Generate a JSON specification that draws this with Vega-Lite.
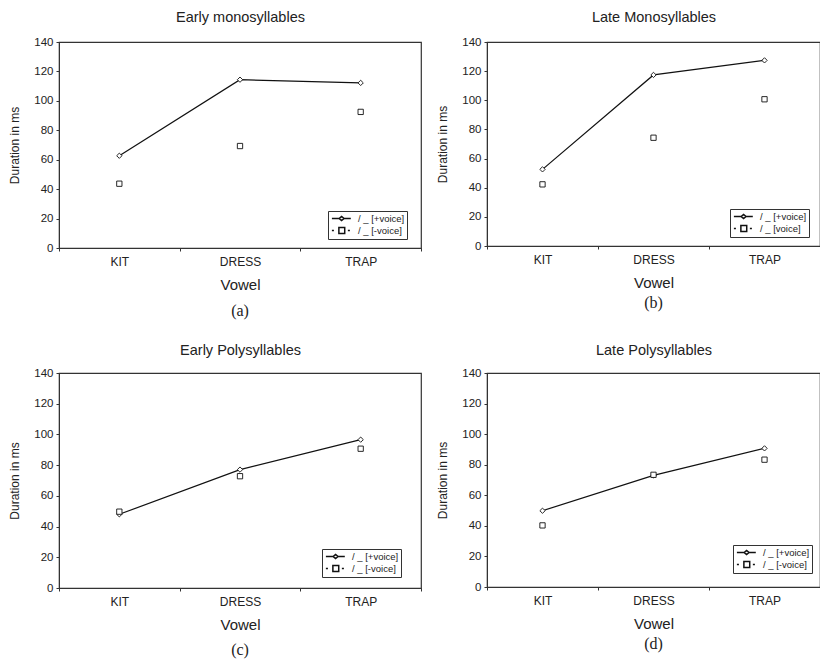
{
  "$schema": "https://vega.github.io/schema/vega-lite/v6.json",
  "background": "white",
  "padding": {"left": 8, "top": 8, "right": 0, "bottom": 0},
  "config": {
    "font": "Liberation Sans",
    "view": {"stroke": "#333", "strokeWidth": 1.2},
    "axis": {"grid": false, "domainColor": "#333", "tickColor": "#333", "labelColor": "#222", "titleColor": "#222", "labelFontSize": 11.5, "titleFontWeight": "normal"},
    "legend": {"labelColor": "#222", "strokeColor": "#333", "fillColor": "white", "padding": 2, "labelFontSize": 9.5, "symbolSize": 81, "rowPadding": 0, "labelOffset": 17}
  },
  "resolve": {"scale": {"shape": "independent"}, "legend": {"shape": "independent"}},
  "datasets": {
    "d": [
      {"panel": "a", "vowel": "KIT", "series": "/ _ [+voice]", "ms": 62.7},
      {"panel": "a", "vowel": "DRESS", "series": "/ _ [+voice]", "ms": 114.4},
      {"panel": "a", "vowel": "TRAP", "series": "/ _ [+voice]", "ms": 112.2},
      {"panel": "a", "vowel": "KIT", "series": "/ _ [-voice]", "ms": 43.7},
      {"panel": "a", "vowel": "DRESS", "series": "/ _ [-voice]", "ms": 69.3},
      {"panel": "a", "vowel": "TRAP", "series": "/ _ [-voice]", "ms": 92.5},
      {"panel": "b", "vowel": "KIT", "series": "/ _ [+voice]", "ms": 52.6},
      {"panel": "b", "vowel": "DRESS", "series": "/ _ [+voice]", "ms": 117.4},
      {"panel": "b", "vowel": "TRAP", "series": "/ _ [+voice]", "ms": 127.4},
      {"panel": "b", "vowel": "KIT", "series": "/ _ [voice]", "ms": 42.3},
      {"panel": "b", "vowel": "DRESS", "series": "/ _ [voice]", "ms": 74.3},
      {"panel": "b", "vowel": "TRAP", "series": "/ _ [voice]", "ms": 100.7},
      {"panel": "c", "vowel": "KIT", "series": "/ _ [+voice]", "ms": 48.0},
      {"panel": "c", "vowel": "DRESS", "series": "/ _ [+voice]", "ms": 77.1},
      {"panel": "c", "vowel": "TRAP", "series": "/ _ [+voice]", "ms": 96.6},
      {"panel": "c", "vowel": "KIT", "series": "/ _ [-voice]", "ms": 49.7},
      {"panel": "c", "vowel": "DRESS", "series": "/ _ [-voice]", "ms": 72.8},
      {"panel": "c", "vowel": "TRAP", "series": "/ _ [-voice]", "ms": 90.7},
      {"panel": "d", "vowel": "KIT", "series": "/ _ [+voice]", "ms": 49.9},
      {"panel": "d", "vowel": "DRESS", "series": "/ _ [+voice]", "ms": 73.0},
      {"panel": "d", "vowel": "TRAP", "series": "/ _ [+voice]", "ms": 90.7},
      {"panel": "d", "vowel": "KIT", "series": "/ _ [-voice]", "ms": 40.3},
      {"panel": "d", "vowel": "DRESS", "series": "/ _ [-voice]", "ms": 73.4},
      {"panel": "d", "vowel": "TRAP", "series": "/ _ [-voice]", "ms": 83.3}
    ]
  },
  "data": {"name": "d"},
  "columns": 2,
  "spacing": {"row": 21, "column": 13},
  "concat": [
    {
      "width": 362, "height": 206,
      "title": {"text": "(a)", "orient": "bottom", "font": "Liberation Serif", "fontSize": 16, "fontWeight": "normal", "color": "#222", "offset": 11},
      "transform": [{"filter": "datum.panel === 'a'"}],
      "encoding": {
        "y": {"field": "ms", "type": "quantitative", "scale": {"domain": [0, 140]}, "axis": {"values": [0,20,40,60,80,100,120,140], "title": "Duration in ms", "titleFontSize": 12, "titlePadding": 12, "tickSize": 3, "labelPadding": 3}}
      },
      "layer": [
        {
          "transform": [{"filter": "datum.series === '/ _ [+voice]'"}],
          "mark": {"type": "line", "color": "#111", "strokeWidth": 1.2},
          "encoding": {"x": {"field": "vowel", "type": "nominal", "sort": ["KIT", "DRESS", "TRAP"], "scale": {"type": "band", "paddingInner": 0, "paddingOuter": 0}, "axis": {"orient": "bottom", "title": "Vowel", "titleFontSize": 15, "titlePadding": 10, "labelFontSize": 12, "labelAngle": 0, "tickBand": "extent", "tickSize": 3, "labelPadding": 5}}}
        },
        {
          "mark": {"type": "point", "filled": false, "color": "#111", "fill": "white", "fillOpacity": 1, "size": 28, "strokeWidth": 0.9, "opacity": 1},
          "encoding": {
            "x": {"field": "vowel", "type": "nominal", "sort": ["KIT", "DRESS", "TRAP"], "scale": {"type": "band", "paddingInner": 0, "paddingOuter": 0}, "axis": {"orient": "top", "title": "Early monosyllables", "titleFontSize": 14.5, "titlePadding": 18, "labels": false, "ticks": false, "domain": false}},
            "shape": {"field": "series", "type": "nominal", "scale": {"domain": ["/ _ [+voice]", "/ _ [-voice]"], "range": ["diamond", "square"]}, "legend": null}
          }
        },
        {
          "mark": {"type": "point", "filled": false, "color": "#111", "opacity": 0},
          "encoding": {
            "x": {"field": "vowel", "type": "nominal", "sort": ["KIT", "DRESS", "TRAP"], "scale": {"type": "band", "paddingInner": 0, "paddingOuter": 0}, "axis": null},
            "shape": {"field": "series", "type": "nominal", "scale": {"domain": ["/ _ [+voice]", "/ _ [-voice]"], "range": ["M-0.8,0H0.8M1.9,0H3.4M0.8,0L1.35,-0.45L1.9,0L1.35,0.45Z", "M-0.8,0H-0.35M0.75,-0.65H2.05V0.65H0.75ZM2.75,0H3.2"]},
              "legend": {"title": null, "orient": "none", "legendX": 269, "legendY": 169,
                "encode": {"symbols": {"stroke": {"value": "#111"}, "fill": {"value": "white"}, "strokeWidth": {"value": 0.9}, "opacity": {"value": 1}, "strokeOpacity": {"value": 1}}}}}
          }
        }
      ],
      "resolve": {"axis": {"x": "independent"}, "scale": {"shape": "independent"}}
    },
    {
      "width": 333, "height": 204,
      "title": {"text": "(b)", "orient": "bottom", "font": "Liberation Serif", "fontSize": 16, "fontWeight": "normal", "color": "#222", "offset": 5},
      "transform": [{"filter": "datum.panel === 'b'"}],
      "encoding": {
        "y": {"field": "ms", "type": "quantitative", "scale": {"domain": [0, 140]}, "axis": {"values": [0,20,40,60,80,100,120,140], "title": "Duration in ms", "titleFontSize": 12, "titlePadding": 12, "tickSize": 3, "labelPadding": 3}}
      },
      "layer": [
        {
          "transform": [{"filter": "datum.series === '/ _ [+voice]'"}],
          "mark": {"type": "line", "color": "#111", "strokeWidth": 1.2},
          "encoding": {"x": {"field": "vowel", "type": "nominal", "sort": ["KIT", "DRESS", "TRAP"], "scale": {"type": "band", "paddingInner": 0, "paddingOuter": 0}, "axis": {"orient": "bottom", "title": "Vowel", "titleFontSize": 15, "titlePadding": 10, "labelFontSize": 12, "labelAngle": 0, "tickBand": "extent", "tickSize": 3, "labelPadding": 5}}}
        },
        {
          "mark": {"type": "point", "filled": false, "color": "#111", "fill": "white", "fillOpacity": 1, "size": 28, "strokeWidth": 0.9, "opacity": 1},
          "encoding": {
            "x": {"field": "vowel", "type": "nominal", "sort": ["KIT", "DRESS", "TRAP"], "scale": {"type": "band", "paddingInner": 0, "paddingOuter": 0}, "axis": {"orient": "top", "title": "Late Monosyllables", "titleFontSize": 14.5, "titlePadding": 18, "labels": false, "ticks": false, "domain": false}},
            "shape": {"field": "series", "type": "nominal", "scale": {"domain": ["/ _ [+voice]", "/ _ [voice]"], "range": ["diamond", "square"]}, "legend": null}
          }
        },
        {
          "mark": {"type": "point", "filled": false, "color": "#111", "opacity": 0},
          "encoding": {
            "x": {"field": "vowel", "type": "nominal", "sort": ["KIT", "DRESS", "TRAP"], "scale": {"type": "band", "paddingInner": 0, "paddingOuter": 0}, "axis": null},
            "shape": {"field": "series", "type": "nominal", "scale": {"domain": ["/ _ [+voice]", "/ _ [voice]"], "range": ["M-0.8,0H0.8M1.9,0H3.4M0.8,0L1.35,-0.45L1.9,0L1.35,0.45Z", "M-0.8,0H-0.35M0.75,-0.65H2.05V0.65H0.75ZM2.75,0H3.2"]},
              "legend": {"title": null, "orient": "none", "legendX": 243, "legendY": 167,
                "encode": {"symbols": {"stroke": {"value": "#111"}, "fill": {"value": "white"}, "strokeWidth": {"value": 0.9}, "opacity": {"value": 1}, "strokeOpacity": {"value": 1}}}}}
          }
        }
      ],
      "resolve": {"axis": {"x": "independent"}, "scale": {"shape": "independent"}}
    },
    {
      "width": 362, "height": 215,
      "title": {"text": "(c)", "orient": "bottom", "font": "Liberation Serif", "fontSize": 16, "fontWeight": "normal", "color": "#222", "offset": 10},
      "transform": [{"filter": "datum.panel === 'c'"}],
      "encoding": {
        "y": {"field": "ms", "type": "quantitative", "scale": {"domain": [0, 140]}, "axis": {"values": [0,20,40,60,80,100,120,140], "title": "Duration in ms", "titleFontSize": 12, "titlePadding": 12, "tickSize": 3, "labelPadding": 3}}
      },
      "layer": [
        {
          "transform": [{"filter": "datum.series === '/ _ [+voice]'"}],
          "mark": {"type": "line", "color": "#111", "strokeWidth": 1.2},
          "encoding": {"x": {"field": "vowel", "type": "nominal", "sort": ["KIT", "DRESS", "TRAP"], "scale": {"type": "band", "paddingInner": 0, "paddingOuter": 0}, "axis": {"orient": "bottom", "title": "Vowel", "titleFontSize": 15, "titlePadding": 10, "labelFontSize": 12, "labelAngle": 0, "tickBand": "extent", "tickSize": 3, "labelPadding": 5}}}
        },
        {
          "mark": {"type": "point", "filled": false, "color": "#111", "fill": "white", "fillOpacity": 1, "size": 28, "strokeWidth": 0.9, "opacity": 1},
          "encoding": {
            "x": {"field": "vowel", "type": "nominal", "sort": ["KIT", "DRESS", "TRAP"], "scale": {"type": "band", "paddingInner": 0, "paddingOuter": 0}, "axis": {"orient": "top", "title": "Early Polysyllables", "titleFontSize": 14.5, "titlePadding": 16, "labels": false, "ticks": false, "domain": false}},
            "shape": {"field": "series", "type": "nominal", "scale": {"domain": ["/ _ [+voice]", "/ _ [-voice]"], "range": ["diamond", "square"]}, "legend": null}
          }
        },
        {
          "mark": {"type": "point", "filled": false, "color": "#111", "opacity": 0},
          "encoding": {
            "x": {"field": "vowel", "type": "nominal", "sort": ["KIT", "DRESS", "TRAP"], "scale": {"type": "band", "paddingInner": 0, "paddingOuter": 0}, "axis": null},
            "shape": {"field": "series", "type": "nominal", "scale": {"domain": ["/ _ [+voice]", "/ _ [-voice]"], "range": ["M-0.8,0H0.8M1.9,0H3.4M0.8,0L1.35,-0.45L1.9,0L1.35,0.45Z", "M-0.8,0H-0.35M0.75,-0.65H2.05V0.65H0.75ZM2.75,0H3.2"]},
              "legend": {"title": null, "orient": "none", "legendX": 263, "legendY": 176,
                "encode": {"symbols": {"stroke": {"value": "#111"}, "fill": {"value": "white"}, "strokeWidth": {"value": 0.9}, "opacity": {"value": 1}, "strokeOpacity": {"value": 1}}}}}
          }
        }
      ],
      "resolve": {"axis": {"x": "independent"}, "scale": {"shape": "independent"}}
    },
    {
      "width": 333, "height": 214,
      "title": {"text": "(d)", "orient": "bottom", "font": "Liberation Serif", "fontSize": 16, "fontWeight": "normal", "color": "#222", "offset": 5},
      "transform": [{"filter": "datum.panel === 'd'"}],
      "encoding": {
        "y": {"field": "ms", "type": "quantitative", "scale": {"domain": [0, 140]}, "axis": {"values": [0,20,40,60,80,100,120,140], "title": "Duration in ms", "titleFontSize": 12, "titlePadding": 12, "tickSize": 3, "labelPadding": 3}}
      },
      "layer": [
        {
          "transform": [{"filter": "datum.series === '/ _ [+voice]'"}],
          "mark": {"type": "line", "color": "#111", "strokeWidth": 1.2},
          "encoding": {"x": {"field": "vowel", "type": "nominal", "sort": ["KIT", "DRESS", "TRAP"], "scale": {"type": "band", "paddingInner": 0, "paddingOuter": 0}, "axis": {"orient": "bottom", "title": "Vowel", "titleFontSize": 15, "titlePadding": 10, "labelFontSize": 12, "labelAngle": 0, "tickBand": "extent", "tickSize": 3, "labelPadding": 5}}}
        },
        {
          "mark": {"type": "point", "filled": false, "color": "#111", "fill": "white", "fillOpacity": 1, "size": 28, "strokeWidth": 0.9, "opacity": 1},
          "encoding": {
            "x": {"field": "vowel", "type": "nominal", "sort": ["KIT", "DRESS", "TRAP"], "scale": {"type": "band", "paddingInner": 0, "paddingOuter": 0}, "axis": {"orient": "top", "title": "Late Polysyllables", "titleFontSize": 14.5, "titlePadding": 16, "labels": false, "ticks": false, "domain": false}},
            "shape": {"field": "series", "type": "nominal", "scale": {"domain": ["/ _ [+voice]", "/ _ [-voice]"], "range": ["diamond", "square"]}, "legend": null}
          }
        },
        {
          "mark": {"type": "point", "filled": false, "color": "#111", "opacity": 0},
          "encoding": {
            "x": {"field": "vowel", "type": "nominal", "sort": ["KIT", "DRESS", "TRAP"], "scale": {"type": "band", "paddingInner": 0, "paddingOuter": 0}, "axis": null},
            "shape": {"field": "series", "type": "nominal", "scale": {"domain": ["/ _ [+voice]", "/ _ [-voice]"], "range": ["M-0.8,0H0.8M1.9,0H3.4M0.8,0L1.35,-0.45L1.9,0L1.35,0.45Z", "M-0.8,0H-0.35M0.75,-0.65H2.05V0.65H0.75ZM2.75,0H3.2"]},
              "legend": {"title": null, "orient": "none", "legendX": 246, "legendY": 172,
                "encode": {"symbols": {"stroke": {"value": "#111"}, "fill": {"value": "white"}, "strokeWidth": {"value": 0.9}, "opacity": {"value": 1}, "strokeOpacity": {"value": 1}}}}}
          }
        }
      ],
      "resolve": {"axis": {"x": "independent"}, "scale": {"shape": "independent"}}
    }
  ]
}
